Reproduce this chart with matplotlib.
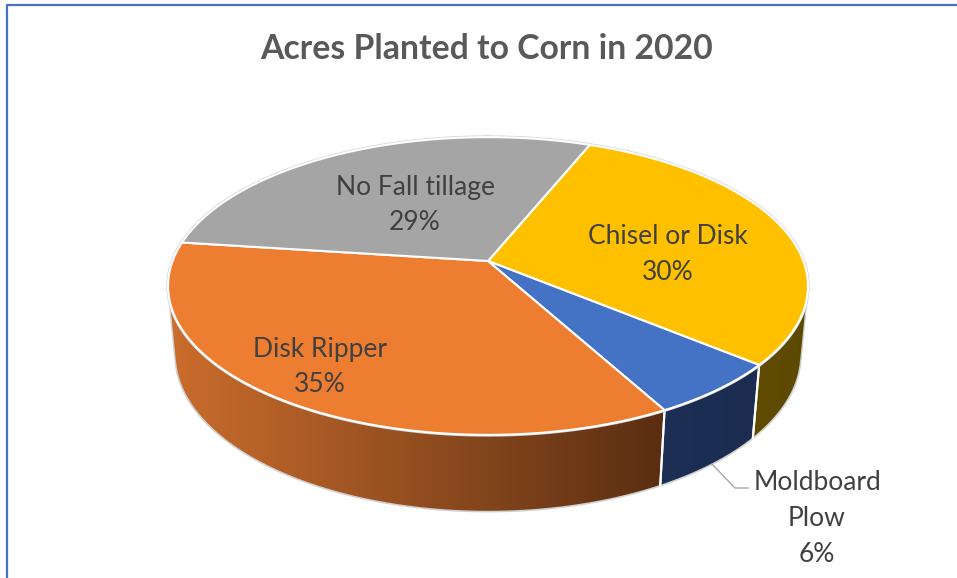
import numpy as np
import matplotlib.pyplot as plt
from matplotlib.patches import Polygon
from matplotlib.colors import LinearSegmentedColormap

# data (clockwise from the first slice angle)
categories = ["Chisel or Disk", "Moldboard\nPlow", "Disk Ripper", "No Fall tillage"]
shares = [30, 6, 35, 29]
pct_labels = ["30%", "6%", "35%", "29%"]

top_colors = ["#FFC000", "#4472C4", "#ED7D31", "#A5A5A5"]
side_colors = [("#604C00", "#5C4900"), ("#1D2F55", "#1B2C50"),
               ("#CB6D2D", "#5A2E12"), ("#6E6E6E", "#555555")]

# label placement (pixels) and leader for the small slice
label_pos = [(668, 255), (817, 518), (320, 367), (415, 205)]
leader_elbow = [(735, 488), (748, 488)]

# 3d view of the pie
start_angle = 21.9
D = 5.29
elev = np.radians(27.3)
cE, sE = np.cos(elev), np.sin(elev)
K = 315.4
CX, CY = 488, 261
H = 0.247


def proj(r, phi, z=0.0):
    phi = np.radians(phi)
    x = r * np.sin(phi)
    y = r * np.cos(phi)
    v = y * sE + z * cE
    w = D + y * cE - z * sE
    return CX + K * D * x / w, CY - K * D * v / w


fig = plt.figure(figsize=(9.57, 5.78), dpi=100)
ax = fig.add_axes([0, 0, 1, 1])
ax.set_xlim(0, 957)
ax.set_ylim(578, 0)
ax.axis("off")

# chart border
ax.plot([6.5, 6.5, 957], [578, 4.5, 4.5], color="#4472C4", lw=1.6,
        solid_capstyle="butt", zorder=10)

ax.text(487, 49, "Acres Planted to Corn in 2020", ha="center", va="center",
        fontsize=24.3, fontweight="bold", color="#595959", family="Lato")

edges = np.cumsum([0] + shares) / sum(shares) * 360 + start_angle
vis_lo = np.degrees(np.arccos(-1 / (D * cE)))
vis_hi = 360 - vis_lo

# side walls
for i in range(len(shares)):
    a0, a1 = edges[i], edges[i + 1]
    lo, hi = max(a0, vis_lo), min(a1, vis_hi)
    if lo >= hi:
        continue
    phis = np.linspace(lo, hi, 80)
    tx, ty = proj(1, phis, 0)
    bx, by = proj(1, phis, -H)
    pts = np.column_stack([np.r_[tx, bx[::-1]], np.r_[ty, by[::-1]]])
    poly = Polygon(pts, closed=True, facecolor="none", edgecolor="none")
    ax.add_patch(poly)
    cmap = LinearSegmentedColormap.from_list("side%d" % i, side_colors[i])
    grad = np.linspace(0, 1, 256).reshape(1, -1)
    im = ax.imshow(grad, cmap=cmap, aspect="auto", zorder=1,
                   extent=(pts[:, 0].min(), pts[:, 0].max(),
                           pts[:, 1].max(), pts[:, 1].min()))
    im.set_clip_path(poly)
    # bottom rim
    ax.plot(bx, by, color="#D0D0D0", lw=1.2, zorder=2)
    # vertical seams between slices
    for a in (a0, a1):
        if vis_lo < a < vis_hi:
            x0, y0 = proj(1, a, 0)
            x1, y1 = proj(1, a, -H)
            ax.plot([x0, x1], [y0, y1], color="white", lw=1.5, zorder=2)

# silhouette edges of the wall
for a in (vis_lo, vis_hi):
    x0, y0 = proj(1, a, 0)
    x1, y1 = proj(1, a, -H)
    ax.plot([x0, x1], [y0, y1], color="#D0D0D0", lw=1.0, zorder=2)

ax.set_xlim(0, 957)
ax.set_ylim(578, 0)

# outer rim of the top face
rim = np.linspace(0, 360, 400)
rx, ry = proj(1, rim, 0)
ax.plot(rx, ry, color="#D6D6D6", lw=2.6, zorder=2.5)

# top face
for i in range(len(shares)):
    phis = np.linspace(edges[i], edges[i + 1], 120)
    ax_, ay_ = proj(1, phis, 0)
    cx, cy = proj(0, 0, 0)
    pts = np.column_stack([np.r_[cx, ax_], np.r_[cy, ay_]])
    ax.add_patch(Polygon(pts, closed=True, facecolor=top_colors[i],
                         edgecolor="white", lw=1.5, joinstyle="round", zorder=3))

# labels
for i in range(len(shares)):
    lx, ly = label_pos[i]
    ax.text(lx, ly, categories[i] + "\n" + pct_labels[i], ha="center",
            va="center", fontsize=19, color="#404040", family="Lato",
            linespacing=1.55, zorder=5)

# leader line for Moldboard Plow
mid = (edges[1] + edges[2]) / 2
sx, sy = proj(1, mid, -H)
ax.plot([sx] + [p[0] for p in leader_elbow], [sy] + [p[1] for p in leader_elbow],
        color="#A6A6A6", lw=1.0, zorder=4)

fig.savefig("out.png", dpi=100)
